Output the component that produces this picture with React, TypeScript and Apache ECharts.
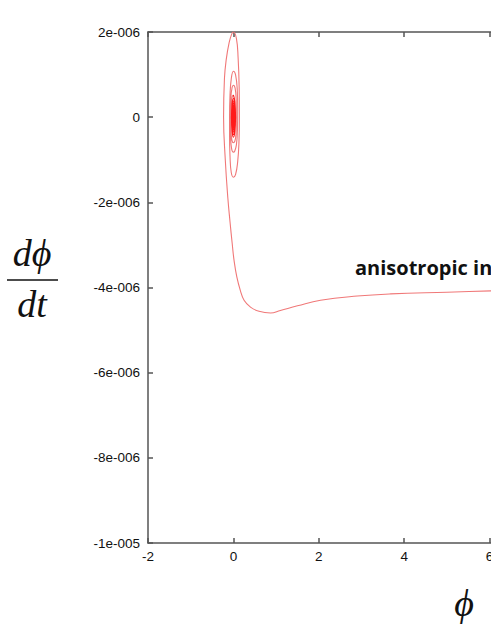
import React, { useEffect, useRef } from "react";
import * as echarts from "echarts";

// Phase-space trajectory: phi (x) and dphi/dt in units of 1e-6 (y), in time order.
// Approach from the right along the lower branch, up to the first top of the spiral
const approachPhi: number[] = [
  8.0, 7.0, 6.04, 5.0, 3.68, 2.9, 2.04, 1.5, 1.1, 0.87, 0.6, 0.4, 0.25, 0.16, 0.08, 0.02, -0.03, -0.08, -0.13, -0.19, -0.23, -0.21, -0.17, -0.1, -0.04, 0,
];
const approachRate: number[] = [
  -4.02, -4.05, -4.08, -4.11, -4.15, -4.2, -4.3, -4.43, -4.54, -4.6, -4.56, -4.46, -4.3, -4.06, -3.75, -3.4, -2.95, -2.45, -1.9, -1.0, 0, 0.9, 1.34, 1.75, 1.95, 2.0,
];
// Outer turns of the spiral
const outerPhi: number[] = [
  0.07, 0.11, 0.135, 0.14, 0.13, 0.1, 0.05, 0,
  -0.05, -0.08, -0.09, -0.09, -0.08, -0.05, 0,
  0.05, 0.09, 0.1, 0.095, 0.07, 0.03, 0,
  -0.04, -0.065, -0.07, -0.06, -0.03, 0,
  0.04, 0.065, 0.07, 0.06, 0.035, 0,
  -0.035, -0.055, -0.055, -0.045, -0.025, 0,
];
const outerRate: number[] = [
  1.85, 1.4, 0.7, 0, -0.6, -1.05, -1.35, -1.41,
  -1.3, -0.9, -0.4, 0, 0.5, 0.9, 1.08,
  1.0, 0.65, 0.2, -0.3, -0.65, -0.8, -0.82,
  -0.75, -0.45, 0, 0.45, 0.7, 0.75,
  0.68, 0.4, 0, -0.4, -0.56, -0.6,
  -0.54, -0.3, 0, 0.32, 0.49, 0.52,
];
// Dense inner turns winding into the origin
const innerPhi: number[] = [
  0,
  0.035, 0.05, 0.035, 0,
  -0.032, -0.045, -0.032, 0,
  0.03, 0.043, 0.03, 0,
  -0.028, -0.04, -0.028, 0,
  0.026, 0.037, 0.026, 0,
  -0.024, -0.034, -0.024, 0,
  0.022, 0.032, 0.022, 0,
  -0.021, -0.03, -0.021, 0,
  0.019, 0.027, 0.019, 0,
  -0.018, -0.025, -0.018, 0,
  0.016, 0.023, 0.016, 0,
  -0.015, -0.021, -0.015, 0,
  0.013, 0.019, 0.013, 0,
  -0.012, -0.017, -0.012, 0,
  0.011, 0.016, 0.011, 0,
  -0.01, -0.014, -0.01, 0,
  0.009, 0.013, 0.009, 0,
  -0.008, -0.011, -0.008, 0,
  0.007, 0.01, 0.007, 0,
  -0.006, -0.008, -0.006, 0,
  0.005, 0.007, 0.005, 0,
  -0.004, -0.005, -0.004, 0,
  0.003, 0.002, 0,
];
const innerRate: number[] = [
  0.52,
  0.36, 0, -0.33, -0.47,
  -0.33, 0, 0.31, 0.44,
  0.31, 0, -0.29, -0.41,
  -0.29, 0, 0.27, 0.38,
  0.27, 0, -0.25, -0.35,
  -0.25, 0, 0.23, 0.33,
  0.23, 0, -0.21, -0.3,
  -0.21, 0, 0.2, 0.28,
  0.2, 0, -0.18, -0.26,
  -0.18, 0, 0.17, 0.24,
  0.17, 0, -0.15, -0.22,
  -0.15, 0, 0.14, 0.2,
  0.14, 0, -0.13, -0.18,
  -0.13, 0, 0.12, 0.17,
  0.12, 0, -0.1, -0.15,
  -0.1, 0, 0.1, 0.14,
  0.1, 0, -0.08, -0.12,
  -0.08, 0, 0.08, 0.11,
  0.08, 0, -0.06, -0.09,
  -0.06, 0, 0.06, 0.08,
  0.06, 0, -0.04, -0.06,
  -0.04, 0, 0.035, 0.05,
  0.02, -0.02, 0,
];

const yTickLabels: Record<string, string> = {
  "-10": "-1e-005",
  "-8": "-8e-006",
  "-6": "-6e-006",
  "-4": "-4e-006",
  "-2": "-2e-006",
  "0": "0",
  "2": "2e-006",
};
const annotation = "anisotropic interaction";

export default function App() {
  const ref = useRef<HTMLDivElement>(null);
  useEffect(() => {
    document.body.style.margin = "0";
    document.body.style.overflow = "hidden";
    const chart = echarts.init(ref.current!, undefined, { renderer: "svg" });
    const outerX = approachPhi.concat(outerPhi);
    const outerY = approachRate.concat(outerRate);
    const outerData = outerX.map((x, i) => [x, outerY[i]]);
    const innerData = innerPhi.map((x, i) => [x, innerRate[i]]);
    const axisLine = { show: true, onZero: false, lineStyle: { color: "#555", width: 1.5 } };
    const tick = { show: true, inside: true, length: 5, lineStyle: { color: "#555", width: 1.5 } };
    const labelStyle = { color: "#111", fontSize: 13.5, fontFamily: "Liberation Sans, Arial, sans-serif" };
    chart.setOption({
      animation: false,
      backgroundColor: "#fff",
      grid: { left: 148, top: 32, bottom: 92, right: 25, containLabel: false },
      xAxis: [
        {
          type: "value",
          min: -2,
          max: 8,
          interval: 2,
          position: "bottom",
          axisLine,
          axisTick: tick,
          splitLine: { show: false },
          axisLabel: { ...labelStyle, margin: 6 },
        },
        {
          type: "value",
          min: -2,
          max: 8,
          interval: 2,
          position: "top",
          axisLine,
          axisTick: tick,
          splitLine: { show: false },
          axisLabel: { show: false },
        },
      ],
      yAxis: [
        {
          type: "value",
          min: -10,
          max: 2,
          interval: 2,
          position: "left",
          axisLine,
          axisTick: tick,
          splitLine: { show: false },
          axisLabel: {
            ...labelStyle,
            margin: 8,
            formatter: (v: number) => yTickLabels[String(Math.round(v))] ?? String(v),
          },
        },
        {
          type: "value",
          min: -10,
          max: 2,
          interval: 2,
          position: "right",
          axisLine,
          axisTick: tick,
          splitLine: { show: false },
          axisLabel: { show: false },
        },
      ],
      series: [
        {
          type: "line",
          data: outerData,
          xAxisIndex: 0,
          yAxisIndex: 0,
          smooth: 0.45,
          showSymbol: false,
          symbol: "none",
          lineStyle: { color: "#f07878", width: 1.1 },
          z: 1,
        },
        {
          type: "line",
          data: innerData,
          xAxisIndex: 0,
          yAxisIndex: 0,
          smooth: 0.45,
          showSymbol: false,
          symbol: "none",
          lineStyle: { color: "#ff1a1a", width: 1.1 },
          z: 2,
        },
      ],
      graphic: [
        {
          type: "text",
          x: 355,
          y: 257,
          style: {
            text: annotation,
            font: "bold 20px 'Open Sans', sans-serif",
            fill: "#111",
            textVerticalAlign: "top",
          },
        },
        {
          type: "text",
          x: 32,
          y: 272,
          style: {
            text: "dϕ",
            font: "italic 38px 'Liberation Serif', 'DejaVu Serif', serif",
            fill: "#111",
            textAlign: "center",
            textVerticalAlign: "bottom",
          },
        },
        {
          type: "line",
          shape: { x1: 7, y1: 280, x2: 58, y2: 280 },
          style: { stroke: "#111", lineWidth: 1.5 },
        },
        {
          type: "text",
          x: 32,
          y: 323,
          style: {
            text: "dt",
            font: "italic 38px 'Liberation Serif', 'DejaVu Serif', serif",
            fill: "#111",
            textAlign: "center",
            textVerticalAlign: "bottom",
          },
        },
        {
          type: "text",
          x: 464,
          y: 622,
          style: {
            text: "ϕ",
            font: "italic 38px 'Liberation Serif', 'DejaVu Serif', serif",
            fill: "#111",
            textAlign: "center",
            textVerticalAlign: "bottom",
          },
        },
      ],
    });
    return () => chart.dispose();
  }, []);
  return <div ref={ref} style={{ width: 600, height: 635 }} />;
}
